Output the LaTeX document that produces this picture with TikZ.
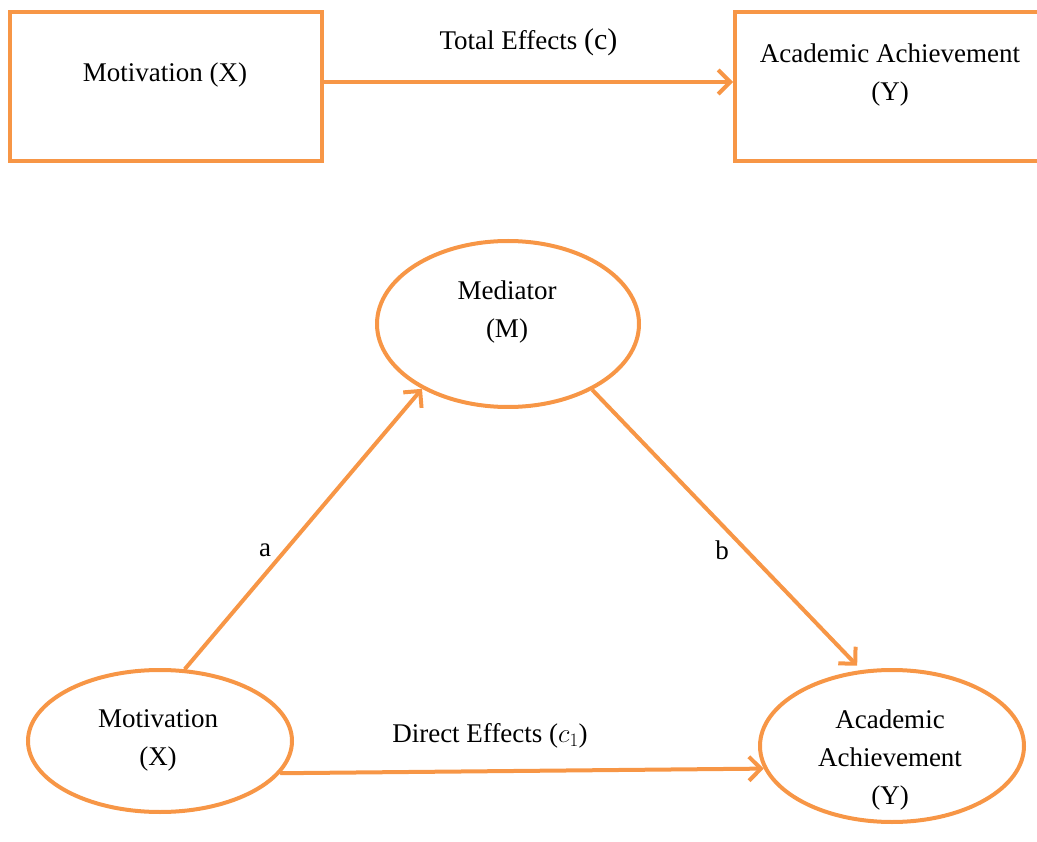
\documentclass[tikz,border=0pt]{standalone}
\usepackage{fix-cm}
\usepackage{fontspec}
\setmainfont{Liberation Serif}
\usetikzlibrary{shapes.geometric,arrows.meta}
\definecolor{orng}{RGB}{247,150,70}
\begin{document}
\begin{tikzpicture}[x=1pt,y=-1pt,
  every node/.style={font=\fontsize{27}{38}\selectfont, text=black},
  box/.style={draw=orng, line width=4pt, rectangle, minimum width=#1, minimum height=149pt, inner sep=0pt},
  oval/.style={draw=orng, line width=4pt, ellipse, inner sep=0pt},
  txt/.style={align=center, inner sep=0pt},
  conn/.style={draw=orng, line width=4pt, -{Straight Barb[length=12pt,width=24pt]}},
]
\useasboundingbox (0,0) rectangle (1037,842);

% top row
\node[box=312pt] (bx) at (166,86.5) {};
\node[box=335pt] (by) at (902.5,86.5) {};
\node[txt] (bxt) at (165,75) {Motivation (X)};
\node[txt] (byt) at (890,75) {Academic Achievement\\(Y)};
\draw[conn] ([yshift=4.5pt]bx.east) -- ([yshift=4.5pt]by.west)
  node[txt, midway, above=24pt] (tl) {Total Effects {\fontsize{30}{38}\selectfont(c)}};

% bottom triangle
\node[oval, minimum width=262pt, minimum height=166pt] (med) at (508,324) {};
\node[txt] (medt) at (507,312) {Mediator\\(M)};
\node[oval, minimum width=264pt, minimum height=142pt] (mx) at (160,741) {};
\node[txt] (mxt) at (158,740) {Motivation\\(X)};
\node[oval, minimum width=264pt, minimum height=152pt] (my) at (892,746) {};
\node[txt] (myt) at (890,760) {Academic\\Achievement\\(Y)};

\draw[conn] (mx.71) -- (med.217);
\draw[conn, shorten >=6pt] (med.322) -- (my.112);
\draw[conn] (mx.-15) -- (my.190);

\node[txt] (la) at (265,550) {a};
\node[txt] (lb) at (722,550) {b};
\node[txt] (lc) at (490,736) {Direct Effects ($c_1$)};
\end{tikzpicture}
\end{document}
